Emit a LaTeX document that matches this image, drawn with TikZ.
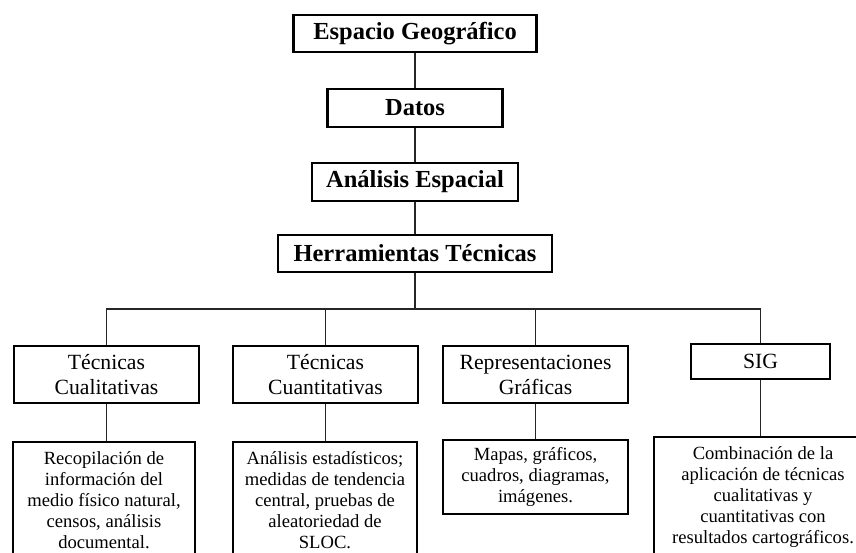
\documentclass[tikz,border=0pt]{standalone}
\usepackage{fontspec}
\setmainfont{Liberation Serif}
\begin{document}
\begin{tikzpicture}[x=1pt,y=-1pt,
  topbox/.style={draw=black,line width=2.8pt,inner sep=0pt,font=\fontsize{24.5}{28}\selectfont\bfseries},
  midbox/.style={draw=black,line width=2.6pt,inner sep=0pt,align=center,font=\fontsize{21.7}{25}\selectfont},
  lowbox/.style={draw=black,line width=2.6pt,inner sep=0pt,align=center,font=\fontsize{18.6}{21}\selectfont},
  conn/.style={draw=black!85,line width=1.5pt}]
\useasboundingbox (0,0) rectangle (856,552);
\clip (0,0) rectangle (856,552);
% top chain
\node[topbox,minimum width=243,minimum height=37] (eg) at (415,33.5) {Espacio Geográfico};
\node[topbox,minimum width=175,minimum height=38] (datos) at (415,108) {Datos};
\node[topbox,minimum width=206,minimum height=38] (ae) at (415,182) {Análisis Espacial};
\node[topbox,minimum width=274,minimum height=37] (ht) at (415,253.5) {Herramientas Técnicas};
% second level
\node[midbox,minimum width=185,minimum height=57] (tcl) at (106.5,374.5) {Técnicas\\Cualitativas};
\node[midbox,minimum width=185,minimum height=57] (tcn) at (325.5,374.5) {Técnicas\\Cuantitativas};
\node[midbox,minimum width=185,minimum height=57] (rg) at (535.5,374.5) {Representaciones\\Gráficas};
\node[midbox,minimum width=139,minimum height=35] (sig) at (760.5,361.5) {SIG};
% third level
\node[lowbox,minimum width=182,minimum height=116] (b1) at (104,500) {Recopilación de\\información del\\medio físico natural,\\censos, análisis\\documental.};
\node[lowbox,minimum width=184,minimum height=116] (b2) at (325,500) {Análisis estadísticos;\\medidas de tendencia\\central, pruebas de\\aleatoriedad de\\SLOC.};
\node[lowbox,minimum width=185,minimum height=74] (b3) at (535.5,477) {Mapas, gráficos,\\cuadros, diagramas,\\imágenes.};
\node[lowbox,minimum width=218,minimum height=121] (b4) at (763,497.5) {Combinación de la\\aplicación de técnicas\\cualitativas y\\cuantitativas con\\resultados cartográficos.};
% connectors
\coordinate (bus) at (415,309);
\draw[conn] (eg.south) -- (datos.north);
\draw[conn] (datos.south) -- (ae.north);
\draw[conn] (ae.south) -- (ht.north);
\draw[conn] (ht.south) -- (bus);
\draw[conn] (tcl.north) -- (tcl.north |- bus) -- (sig.north |- bus) -- (sig.north);
\draw[conn] (tcn.north) -- (tcn.north |- bus);
\draw[conn] (rg.north) -- (rg.north |- bus);
\draw[conn] (tcl.south) -- (tcl.south |- b1.north);
\draw[conn] (tcn.south) -- (tcn.south |- b2.north);
\draw[conn] (rg.south) -- (rg.south |- b3.north);
\draw[conn] (sig.south) -- (sig.south |- b4.north);
\end{tikzpicture}
\end{document}
